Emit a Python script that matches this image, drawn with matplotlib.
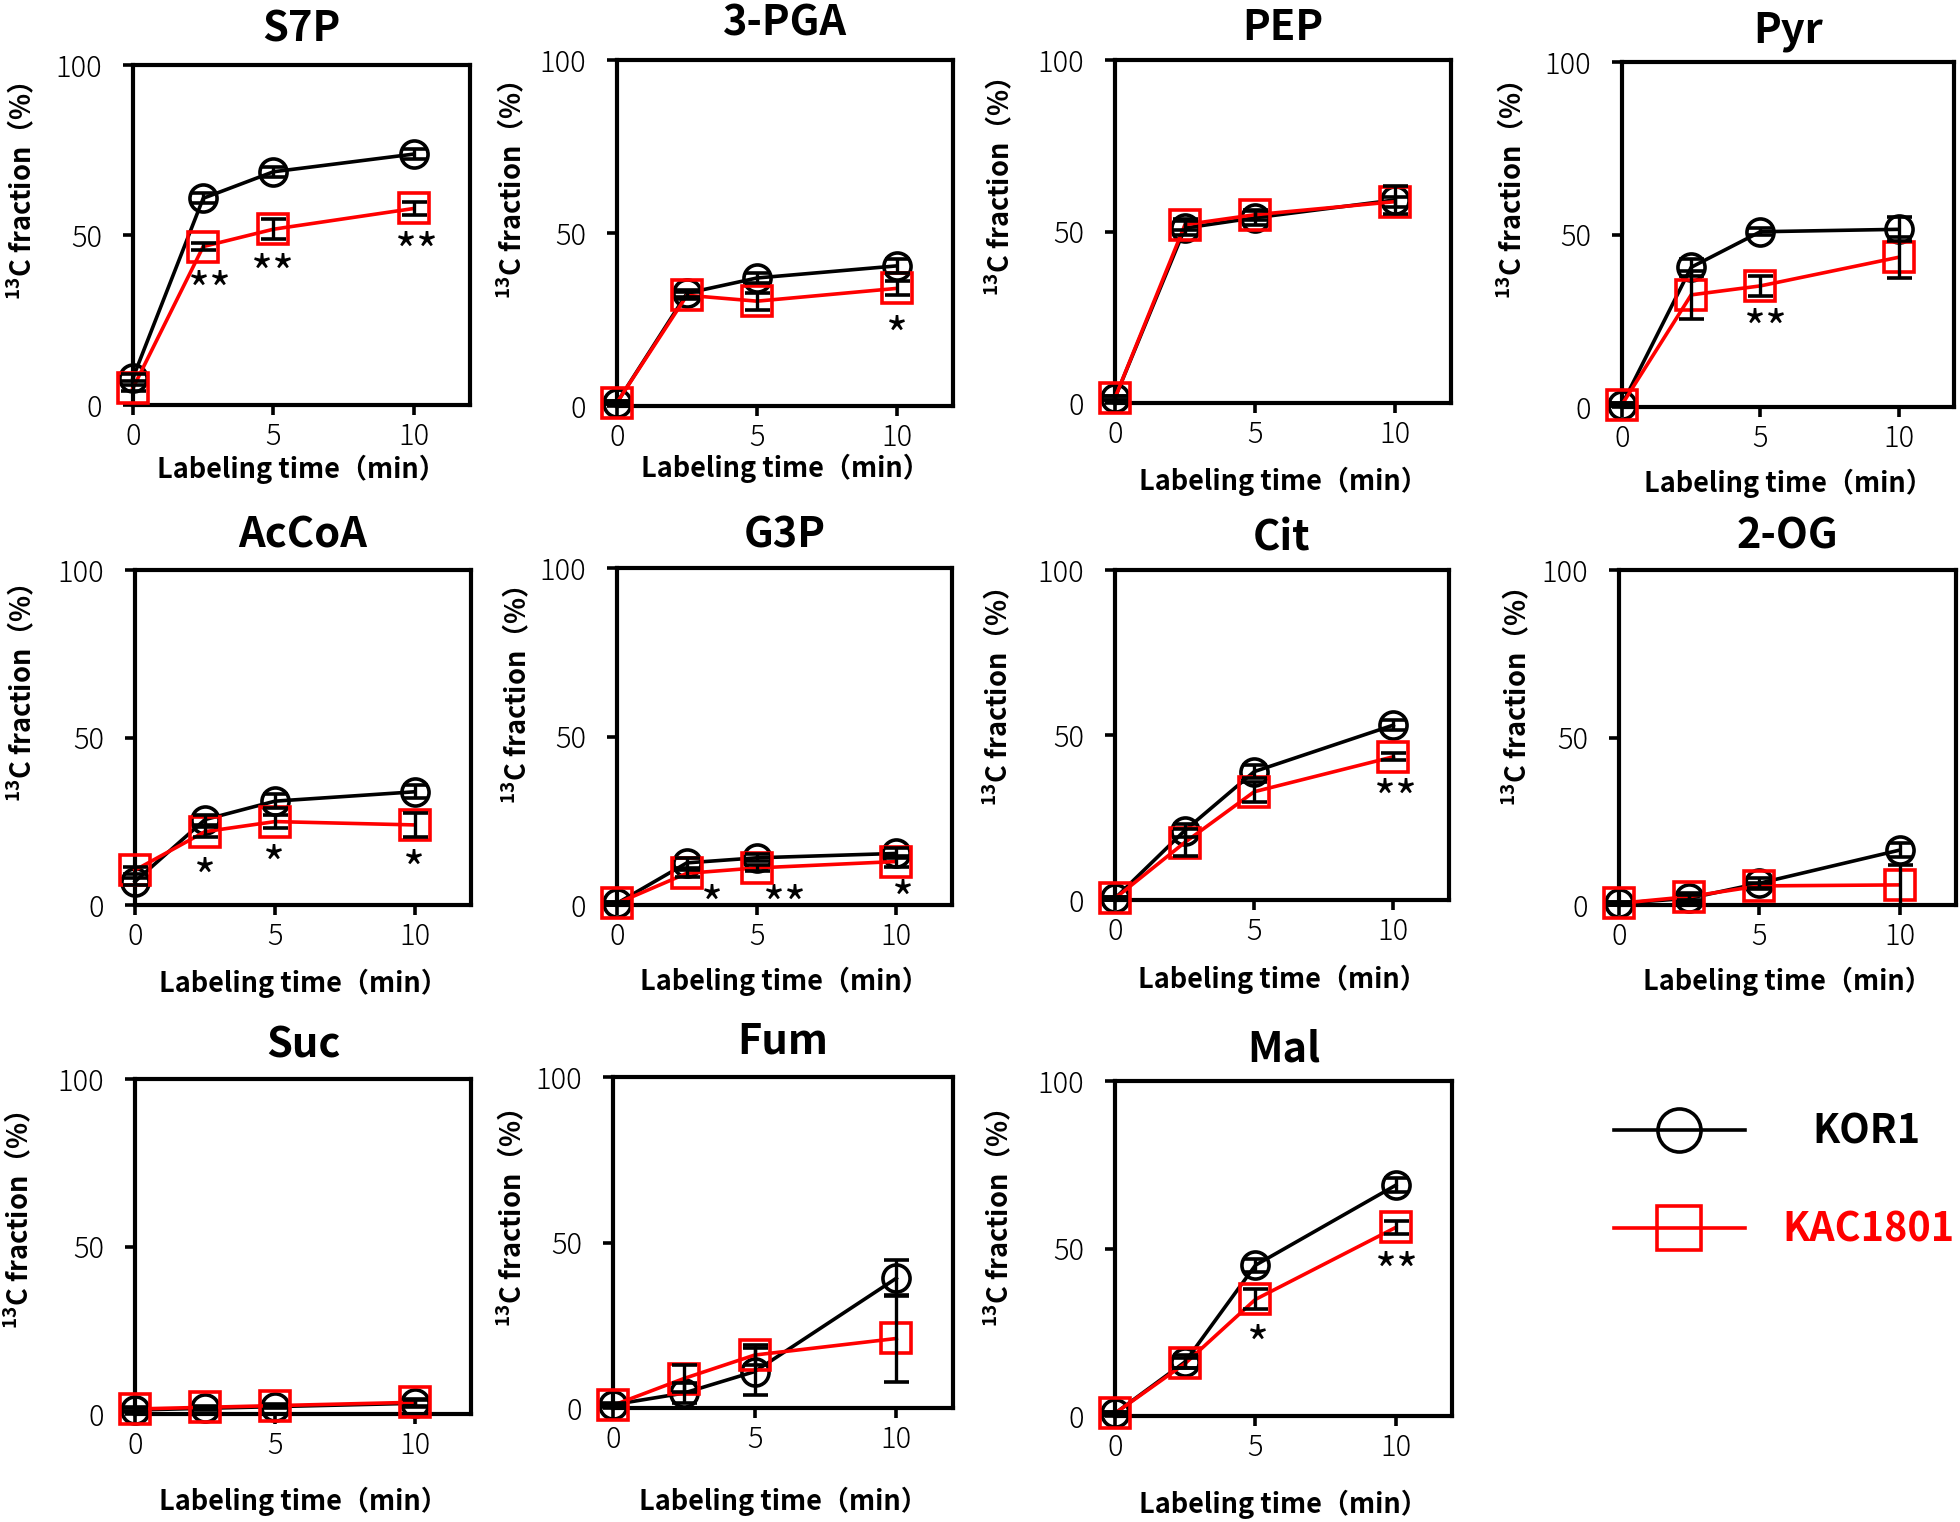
import matplotlib
matplotlib.use('Agg')
import matplotlib.pyplot as plt
from matplotlib.lines import Line2D

plt.rcParams['font.family'] = ['Noto Sans CJK JP', 'DejaVu Sans']
plt.rcParams['mathtext.fontset'] = 'custom'
plt.rcParams['mathtext.rm'] = 'Noto Sans CJK JP'
plt.rcParams['mathtext.bf'] = 'Noto Sans CJK JP:bold'
plt.rcParams['mathtext.default'] = 'bf'

# ---- data (13C fraction, %) ----
times = [0, 2.5, 5, 10]
names = ['S7P', '3-PGA', 'PEP', 'Pyr',
         'AcCoA', 'G3P', 'Cit', '2-OG',
         'Suc', 'Fum', 'Mal']

kor1_mean = [
    [8.0, 60.8, 68.6, 73.8],
    [1.0, 32.6, 37.0, 40.5],
    [1.5, 51.0, 54.0, 59.2],
    [0.7, 40.5, 50.8, 51.5],
    [7.0, 25.5, 31.0, 33.8],
    [0.5, 12.5, 14.0, 15.3],
    [0.5, 21.0, 38.9, 53.0],
    [0.5, 2.0, 6.5, 16.4],
    [1.2, 1.7, 2.2, 3.2],
    [1.0, 4.5, 11.0, 39.2],
    [0.8, 16.2, 45.0, 68.9],
]
kor1_err = [
    [1.0, 1.5, 1.5, 1.5],
    [0.5, 1.0, 1.5, 2.0],
    [0.5, 2.0, 2.0, 4.0],
    [0.5, 2.5, 1.0, 3.5],
    [1.0, 1.5, 2.0, 2.0],
    [0.5, 1.5, 1.0, 1.5],
    [0.5, 2.0, 2.0, 1.5],
    [0.5, 1.0, 1.5, 2.0],
    [0.5, 0.5, 0.5, 1.0],
    [0.5, 3.0, 7.0, 5.5],
    [0.5, 2.0, 2.0, 2.0],
]
kac_mean = [
    [5.0, 46.6, 51.7, 57.8],
    [1.0, 32.0, 30.3, 34.0],
    [1.5, 52.0, 54.9, 58.7],
    [0.7, 32.5, 35.1, 43.4],
    [10.4, 21.9, 24.9, 23.9],
    [0.5, 9.4, 11.0, 12.9],
    [0.5, 17.4, 32.8, 43.4],
    [0.5, 2.5, 5.7, 6.0],
    [1.5, 2.0, 2.5, 3.5],
    [0.8, 8.9, 16.0, 21.0],
    [0.8, 15.7, 34.8, 56.3],
]
kac_err = [
    [1.0, 1.0, 3.0, 2.0],
    [0.5, 1.0, 2.5, 2.0],
    [0.5, 1.5, 1.5, 1.5],
    [0.5, 7.0, 3.0, 6.0],
    [1.0, 1.5, 2.0, 3.5],
    [0.5, 1.0, 1.0, 1.5],
    [0.5, 4.0, 3.0, 1.0],
    [0.5, 1.0, 1.0, 6.0],
    [0.5, 0.5, 0.5, 1.0],
    [0.5, 4.0, 3.0, 13.0],
    [0.5, 1.5, 3.0, 2.0],
]
# significance marks: (time, y, text)
sig_marks = [
    [(2.75, 37, '**'), (5.0, 42, '**'), (10.1, 48.5, '**')],
    [(10.0, 23.5, '*')],
    [],
    [(5.2, 26, '**')],
    [(2.5, 11.5, '*'), (4.95, 15.5, '*'), (9.95, 14, '*')],
    [(3.4, 3.5, '*'), (6.0, 3.5, '**'), (10.25, 5, '*')],
    [(10.1, 34, '**')],
    [],
    [],
    [],
    [(5.1, 24.7, '*'), (10.05, 46.5, '**')],
]
strains = ['KOR1', 'KAC1801']
colors = ['black', '#ff0000']
markers = ['o', 's']

# ---- layout (pixel boxes: left, top, right, bottom) ----
W, H = 1960, 1522
boxes = [
    (133, 65, 470, 405), (617, 60, 953, 406), (1115, 60, 1451, 403), (1622, 62, 1954, 407),
    (135, 570, 471, 905), (617, 568, 952, 905), (1115, 570, 1449, 900), (1619, 570, 1956, 905),
    (135, 1079, 471, 1414), (613, 1077, 953, 1408), (1115, 1081, 1452, 1416),
]
title_off = [38, 40, 35, 34, 38, 36, 35, 37, 37, 39, 34]
xlab_off = [63, 61, 77, 75, 77, 75, 78, 75, 86, 92, 87]
ylab_off = [101, 95, 105, 100, 103, 90, 107, 92, 106, 91, 106]
ylab_pos = [0.63, 0.624, 0.63, 0.629, 0.633, 0.623, 0.615, 0.62, 0.58, 0.574, 0.59]

fig = plt.figure(figsize=(W / 100, H / 100), dpi=100)

for i, name in enumerate(names):
    l, t, r, b = boxes[i]
    wpx, hpx = r - l, b - t
    ax = fig.add_axes([l / W, 1 - b / H, wpx / W, hpx / H])

    ax.plot(times, kor1_mean[i], color=colors[0], lw=2.6, marker='o', ms=19.5,
            mfc='none', mec=colors[0], mew=2.6, clip_on=False, zorder=3)
    ax.plot(times, kac_mean[i], color=colors[1], lw=2.6, marker='s', ms=21.5,
            mfc='none', mec=colors[1], mew=2.6, clip_on=False, zorder=4)
    for m, e in ((kor1_mean[i], kor1_err[i]), (kac_mean[i], kac_err[i])):
        ax.errorbar(times, m, yerr=e, fmt='none', ecolor='black', elinewidth=2.4,
                    capsize=9, capthick=2.6, clip_on=False, zorder=5)

    fs = 34
    for (sx, sy, s) in sig_marks[i]:
        ax.annotate(s, (sx, sy), xytext=(0, -0.58 * fs), textcoords='offset points',
                    ha='center', va='baseline', fontsize=fs, color='black')

    ax.set_xlim(0, 12)
    ax.set_ylim(0, 100)
    ax.set_xticks([0, 5, 10])
    ax.set_yticks([0, 50, 100])
    for sp in ax.spines.values():
        sp.set_linewidth(3.0)
    ax.tick_params(axis='both', direction='out', length=7, width=2.6,
                   labelsize=21)
    ax.tick_params(axis='y', pad=15)
    ax.tick_params(axis='x', pad=5)
    for lab in ax.get_xticklabels() + ax.get_yticklabels():
        lab.set_fontweight('light')

    ax.text(0.5, 1 + (title_off[i] - 15) / hpx, name, transform=ax.transAxes,
            ha='center', va='baseline', fontsize=30, fontweight='bold')

    ax.set_xlabel('Labeling time（min）', fontsize=19.5, fontweight='bold')
    ax.xaxis.label.set_va('baseline')
    ax.xaxis.set_label_coords(0.5, -(xlab_off[i] + 10) / hpx)

    ax.set_ylabel(r'$^{13}$C fraction（%）', fontsize=19.5, fontweight='bold')
    ax.yaxis.label.set_va('baseline')
    ax.yaxis.set_label_coords(-ylab_off[i] / wpx, ylab_pos[i])

# ---- legend: one entry per row so the labels can be centred like the original ----
leg_rows = [1132, 1230]
leg_pads = [1.72, 0.96]
for k in range(2):
    h = Line2D([], [], color=colors[k], lw=2.6, marker=markers[k], ms=31 if k == 0 else 32,
               mfc='none', mew=2.6)
    leg = fig.legend([h], [strains[k]], loc='center left',
                     bbox_to_anchor=(1614 / W, 1 - leg_rows[k] / H), frameon=False,
                     borderpad=0, borderaxespad=0, handlelength=3.3,
                     handletextpad=leg_pads[k],
                     prop={'size': 28.5, 'weight': 'bold'})
    leg.get_texts()[0].set_color(colors[k])

fig.savefig('out.png', dpi=100)
